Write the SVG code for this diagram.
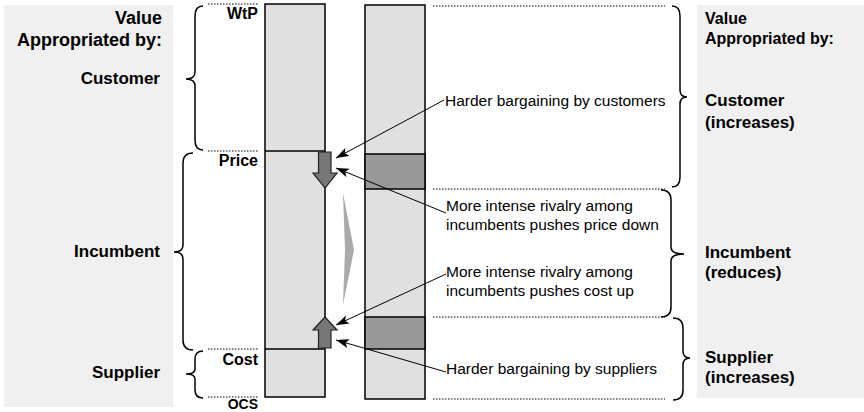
<svg xmlns="http://www.w3.org/2000/svg" width="864" height="412" viewBox="0 0 864 412">
  <style>
    .panel { fill: #f0f0f0; }
    .bar { fill: #e0e0e0; stroke: #000; stroke-width: 1.5; }
    .band { fill: #999999; stroke: #000; stroke-width: 1.5; }
    .div { stroke: #000; stroke-width: 1.5; }
    .dot { stroke: #000; stroke-width: 1.2; stroke-dasharray: 1.5 1.5; fill: none; }
    .brace { fill: none; stroke: #000; stroke-width: 1.5; }
    .block { fill: #777777; stroke: #222; stroke-width: 1.2; }
    .conn { stroke: #000; stroke-width: 1; fill: none; marker-end: url(#tip); }
    .hb { font-family: "Liberation Sans", Arial, sans-serif; font-weight: bold; fill: #000; }
    .ann { font-family: "Liberation Sans", Arial, sans-serif; font-size: 15.5px; fill: #000; }
  </style>
  <defs>
    <marker id="tip" markerWidth="14" markerHeight="10" refX="13" refY="5" orient="auto" markerUnits="userSpaceOnUse">
      <path d="M0,0.5 L13,5 L0,9.5 L3,5 Z" fill="#000"/>
    </marker>
  </defs>

  <!-- side panels -->
  <g id="left-panel">
    <rect class="panel" x="4" y="5" width="169" height="402"/>
    <text class="hb" font-size="18" x="162" y="24" text-anchor="end">Value</text>
    <text class="hb" font-size="18" x="162" y="46" text-anchor="end">Appropriated by:</text>
    <text class="hb" font-size="17" x="160" y="84" text-anchor="end">Customer</text>
    <text class="hb" font-size="17" x="160" y="257" text-anchor="end">Incumbent</text>
    <text class="hb" font-size="17" x="160" y="378" text-anchor="end">Supplier</text>
  </g>
  <g id="right-panel">
    <rect class="panel" x="697" y="5" width="167" height="393"/>
    <text class="hb" font-size="16" x="705" y="24">Value</text>
    <text class="hb" font-size="16" x="705" y="44">Appropriated by:</text>
    <text class="hb" font-size="17" x="705" y="106">Customer</text>
    <text class="hb" font-size="17" x="705" y="128">(increases)</text>
    <text class="hb" font-size="17" x="705" y="258">Incumbent</text>
    <text class="hb" font-size="17" x="705" y="278">(reduces)</text>
    <text class="hb" font-size="17" x="705" y="363">Supplier</text>
    <text class="hb" font-size="17" x="705" y="383">(increases)</text>
  </g>

  <!-- left braces -->
  <g id="brace-customer-left">
    <path class="brace" d="M203,6 Q195,6 195,16 L195,72 Q195,79 186,79 Q195,79 195,86 L195,140 Q195,150 203,150"/>
  </g>
  <g id="brace-incumbent-left">
    <path class="brace" d="M193,153 Q183,153 183,163 L183,245 Q183,252 174,252 Q183,252 183,259 L183,340 Q183,350 193,350"/>
  </g>
  <g id="brace-supplier-left">
    <path class="brace" d="M203,351 Q195,351 195,359 L195,369 Q195,374 186,374 Q195,374 195,379 L195,390 Q195,398 203,398"/>
  </g>

  <!-- right braces -->
  <g id="brace-customer-right">
    <path class="brace" d="M672,6 Q680,6 680,16 L680,90 Q680,97 687,97 Q680,97 680,104 L680,177 Q680,187 672,187"/>
  </g>
  <g id="brace-incumbent-right">
    <path class="brace" d="M661,190 Q671,190 671,200 L671,247 Q671,254 684,254 Q671,254 671,261 L671,307 Q671,317 661,317"/>
  </g>
  <g id="brace-supplier-right">
    <path class="brace" d="M673,318 Q683,318 683,328 L683,351 Q683,358 690,358 Q683,358 683,365 L683,390 Q683,400 673,400"/>
  </g>

  <!-- dotted level lines -->
  <g id="levels">
    <line class="dot" x1="208" y1="4" x2="258" y2="4"/>
    <line class="dot" x1="208" y1="151" x2="258" y2="151"/>
    <line class="dot" x1="208" y1="349" x2="258" y2="349"/>
    <line class="dot" x1="208" y1="397" x2="258" y2="397"/>
    <line class="dot" x1="433" y1="6" x2="665" y2="6"/>
    <line class="dot" x1="433" y1="189" x2="665" y2="189"/>
    <line class="dot" x1="433" y1="317" x2="665" y2="317"/>
    <line class="dot" x1="433" y1="399" x2="665" y2="399"/>
  </g>

  <!-- level labels -->
  <g id="level-labels">
    <text class="hb" font-size="16" x="258" y="19" text-anchor="end">WtP</text>
    <text class="hb" font-size="16" x="258" y="166" text-anchor="end">Price</text>
    <text class="hb" font-size="16" x="258" y="365" text-anchor="end">Cost</text>
    <text class="hb" font-size="14" x="258" y="408.5" text-anchor="end">OCS</text>
  </g>

  <!-- value bar before -->
  <g id="bar-before">
    <rect class="bar" x="265" y="4" width="60" height="393"/>
    <line class="div" x1="265" y1="151" x2="325" y2="151"/>
    <line class="div" x1="265" y1="349" x2="325" y2="349"/>
  </g>

  <!-- value bar after -->
  <g id="bar-after">
    <rect class="bar" x="365" y="5" width="60" height="394"/>
    <rect class="band" x="365" y="154" width="60" height="35"/>
    <rect class="band" x="365" y="317" width="60" height="32"/>
  </g>

  <!-- price and cost shift arrows -->
  <g id="price-down">
    <path class="block" d="M318.5,152 L331,152 L331,173 L337,173 L325,188 L313,173 L318.5,173 Z"/>
  </g>
  <g id="cost-up">
    <path class="block" d="M318.5,348 L331,348 L331,330 L337,330 L325,317 L313,330 L318.5,330 Z"/>
  </g>

  <!-- transition chevron -->
  <g id="transition">
    <path d="M343,193 L354,250 L343,305 L345,250 Z" fill="#aaaaaa"/>
  </g>

  <!-- annotations -->
  <g id="note-customers">
    <text class="ann" x="445" y="106">Harder bargaining by customers</text>
  </g>
  <g id="note-rivalry-price">
    <text class="ann" x="446" y="211">More intense rivalry among</text>
    <text class="ann" x="446" y="230">incumbents pushes price down</text>
  </g>
  <g id="note-rivalry-cost">
    <text class="ann" x="446" y="277">More intense rivalry among</text>
    <text class="ann" x="446" y="296">incumbents pushes cost up</text>
  </g>
  <g id="note-suppliers">
    <text class="ann" x="446" y="374">Harder bargaining by suppliers</text>
  </g>

  <!-- connectors -->
  <g id="connectors">
    <line class="conn" x1="444" y1="100" x2="336" y2="158"/>
    <line class="conn" x1="446" y1="213" x2="336" y2="168"/>
    <line class="conn" x1="446" y1="274" x2="336" y2="325"/>
    <line class="conn" x1="446" y1="372" x2="336" y2="340"/>
  </g>
</svg>
